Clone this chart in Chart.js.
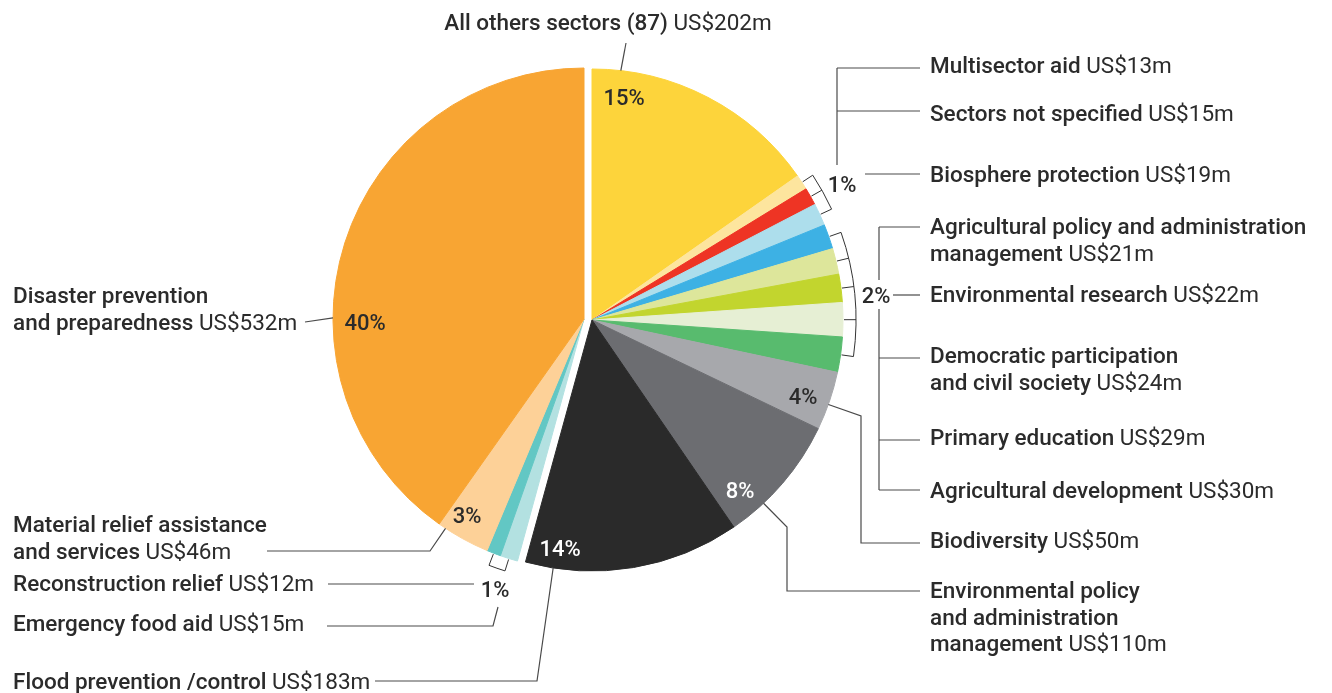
<!DOCTYPE html>
<html>
<head>
<meta charset="utf-8">
<script src="https://cdn.jsdelivr.net/npm/chart.js@4.4.1/dist/chart.umd.min.js"></script>
<style>
  html, body { margin: 0; padding: 0; background: #fff; }
  #wrap { position: relative; width: 1332px; height: 693px; }
</style>
</head>
<body>
<div id="wrap"><canvas id="chart"></canvas></div>
<script>
// Sectors clockwise from 12 o'clock
const sectors = [
  'All others sectors (87)',
  'Multisector aid',
  'Sectors not specified',
  'Biosphere protection',
  'Agricultural policy and administration management',
  'Environmental research',
  'Democratic participation and civil society',
  'Primary education',
  'Agricultural development',
  'Biodiversity',
  'Environmental policy and administration management',
  'Flood prevention /control',
  'Emergency food aid',
  'Reconstruction relief',
  'Material relief assistance and services',
  'Disaster prevention and preparedness'
]
// US$ millions
const amounts = [202, 13, 15, 19, 21, 22, 24, 29, 30, 50, 110, 183, 15, 12, 46, 532]
const sliceColors = [
  '#FDD43B', '#FDE59E', '#EE3424', '#ADDEEC', '#3DB1E4', '#DDE69B', '#C2D52E', '#E6EFD4',
  '#58BB6E', '#A7A8AC', '#6C6D71', '#2A2A2A', '#B3E1E1', '#62C7C4', '#FDD198', '#F8A533'
]

const total = amounts.reduce((a, b) => a + b, 0)
const TEXT = '#2b2b2b'
const LINE = '#4a4a4a'
const FONT = 'Roboto, "Open Sans", sans-serif'
const LABEL_SIZE = 22.5
const PCT_SIZE = 22

// slices 12-15 are pulled out together to the left
const pulledGroup = [12, 13, 14, 15]
const groupShift = { x: -8, y: -1 }

// sector callouts: i = slice, breaks = words per line before the last one
const callouts = [
  { i: 0, x: 608, y: 30, align: 'center' },
  { i: 1, x: 930, y: 73 },
  { i: 2, x: 930, y: 121 },
  { i: 3, x: 930, y: 182 },
  { i: 4, x: 930, y: 234, breaks: [4] },
  { i: 5, x: 930, y: 302 },
  { i: 6, x: 930, y: 363, breaks: [2] },
  { i: 7, x: 930, y: 445 },
  { i: 8, x: 930, y: 498 },
  { i: 9, x: 930, y: 548 },
  { i: 10, x: 930, y: 598, breaks: [2, 2] },
  { i: 15, x: 13, y: 303, breaks: [2] },
  { i: 14, x: 13, y: 532, breaks: [3] },
  { i: 13, x: 13, y: 591 },
  { i: 12, x: 13, y: 631 },
  { i: 11, x: 13, y: 689 }
]

// percentage labels (groups show the share of a typical member)
const pctLabels = [
  { slices: [0], x: 624, y: 97 },
  { slices: [15], x: 365, y: 322 },
  { slices: [14], x: 467, y: 515 },
  { slices: [11], x: 560, y: 548, color: '#fff' },
  { slices: [10], x: 740, y: 490, color: '#fff' },
  { slices: [9], x: 803, y: 396 },
  { slices: [1, 2, 3], x: 842, y: 184 },
  { slices: [4, 5, 6, 7, 8], x: 876, y: 295 },
  { slices: [12, 13], x: 495, y: 589 }
]

// leader lines starting on a slice edge
const leaders = [
  { i: 0, frac: 0.12, path: [[626, 43]] },
  { i: 9, frac: 0.56, path: [[861, 416], [861, 543], [920, 543]] },
  { i: 10, frac: 0.71, path: [[787, 527], [787, 591], [920, 591]] },
  { i: 11, frac: 0.87, path: [[537, 681], [375, 681]] },
  { i: 14, frac: 0.86, path: [[430, 551], [267, 551]] },
  { i: 15, frac: 0.38, path: [[305, 322]] }
]

// connector lines between group labels
const rules = [
  [[837, 68], [837, 165]], [[837, 68], [920, 68]], [[837, 111], [920, 111]], [[865, 174], [920, 174]],
  [[879, 227], [879, 280]], [[879, 309], [879, 490]], [[879, 227], [920, 227]], [[893, 295], [920, 295]],
  [[879, 358], [920, 358]], [[879, 440], [920, 440]], [[879, 490], [920, 490]],
  [[474, 584], [328, 584]], [[498, 607], [493, 626], [327, 626]]
]

const brackets = [[1, 2, 3], [4, 5, 6, 7, 8], [12, 13]]
const TICK = 13

const calloutPlugin = {
  id: 'callouts',
  afterDatasetUpdate(chart, args) {
    const arcs = args.meta.data
    pulledGroup.forEach(i => {
      arcs[i].x += groupShift.x
      arcs[i].y += groupShift.y
    })
  },
  afterDraw(chart) {
    const ctx = chart.ctx
    const arcs = chart.getDatasetMeta(0).data

    const midAngle = a => (a.startAngle + a.endAngle) / 2
    const edge = (i, frac, extra = 0) => {
      const a = arcs[i]
      const ang = a.startAngle + frac * (a.endAngle - a.startAngle)
      const r = a.outerRadius + extra
      return [a.x + Math.cos(ang) * r, a.y + Math.sin(ang) * r]
    }
    const poly = pts => {
      ctx.beginPath()
      ctx.moveTo(pts[0][0], pts[0][1])
      pts.slice(1).forEach(p => ctx.lineTo(p[0], p[1]))
      ctx.stroke()
    }

    ctx.save()
    ctx.lineWidth = 1.2
    ctx.strokeStyle = LINE
    leaders.forEach(l => poly([edge(l.i, l.frac)].concat(l.path)))
    rules.forEach(r => poly(r))

    // brackets hugging small slices
    ctx.lineWidth = 1
    ctx.strokeStyle = '#333'
    brackets.forEach(group => {
      const first = arcs[group[0]]
      const last = arcs[group[group.length - 1]]
      const r = first.outerRadius
      const a0 = midAngle(first)
      const a1 = midAngle(last)
      group.forEach(i => {
        const a = arcs[i]
        const m = midAngle(a)
        poly([[a.x + Math.cos(m) * (r + 1), a.y + Math.sin(m) * (r + 1)],
              [a.x + Math.cos(m) * (r + TICK), a.y + Math.sin(m) * (r + TICK)]])
      })
      ctx.beginPath()
      ctx.arc(first.x, first.y, r + TICK, a0, a1)
      ctx.stroke()
    })

    // percentages
    ctx.textAlign = 'center'
    ctx.textBaseline = 'alphabetic'
    ctx.font = `500 ${PCT_SIZE}px ${FONT}`
    pctLabels.forEach(p => {
      const mean = p.slices.reduce((s, i) => s + amounts[i], 0) / p.slices.length
      ctx.fillStyle = p.color || TEXT
      ctx.fillText(Math.round(mean / total * 100) + '%', p.x, p.y + PCT_SIZE * 0.36)
    })

    // sector names and amounts
    ctx.textAlign = 'left'
    const bold = `500 ${LABEL_SIZE}px ${FONT}`
    const regular = `400 ${LABEL_SIZE}px ${FONT}`
    callouts.forEach(c => {
      const words = sectors[c.i].split(' ')
      const lines = []
      let k = 0
      ;(c.breaks || []).forEach(n => { lines.push(words.slice(k, k + n).join(' ')); k += n })
      lines.push(words.slice(k).join(' '))
      const value = ' US$' + amounts[c.i] + 'm'
      ctx.fillStyle = TEXT
      lines.forEach((txt, j) => {
        const y = c.y + j * 26.5
        ctx.font = bold
        const w = ctx.measureText(txt).width
        const isLast = j === lines.length - 1
        let x = c.x
        if (c.align === 'center') {
          ctx.font = regular
          const vw = isLast ? ctx.measureText(value).width : 0
          x = c.x - (w + vw) / 2
          ctx.font = bold
        }
        ctx.fillText(txt, x, y)
        if (isLast) {
          ctx.font = regular
          ctx.fillText(value, x + w, y)
        }
      })
    })
    ctx.restore()
  }
}

new Chart(document.getElementById('chart'), {
  type: 'pie',
  data: {
    labels: sectors,
    datasets: [{
      data: amounts,
      backgroundColor: sliceColors,
      borderColor: sliceColors,
      borderWidth: 1,
      radius: 251
    }]
  },
  options: {
    responsive: true,
    maintainAspectRatio: false,
    animation: false,
    events: [],
    layout: { padding: { left: 341, right: 489, top: 69, bottom: 122 } },
    plugins: {
      legend: { display: false },
      tooltip: { enabled: false }
    }
  },
  plugins: [calloutPlugin]
})
</script>
</body>
</html>
